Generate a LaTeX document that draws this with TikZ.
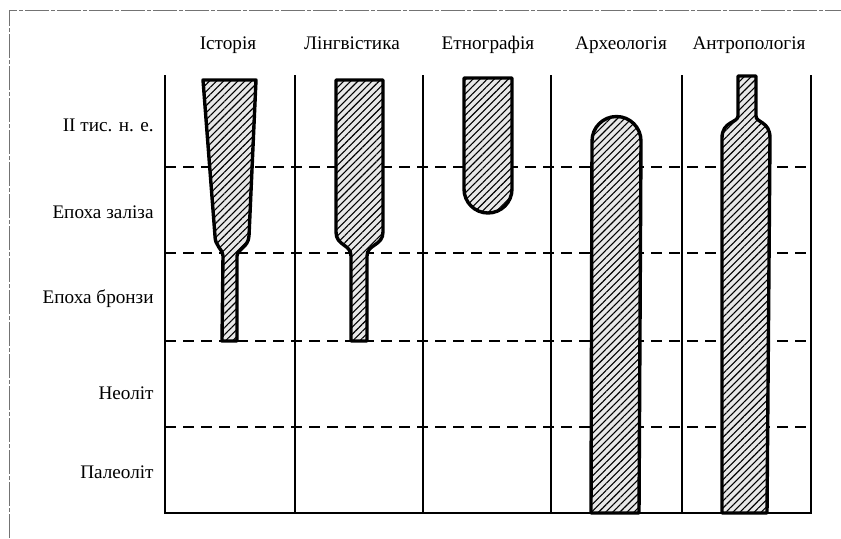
\documentclass[tikz,border=0pt]{standalone}
\usepackage{fontspec}
\setmainfont{Liberation Serif}
\usepackage{tikz}
\usetikzlibrary{patterns.meta,positioning}

\begin{document}
\begin{tikzpicture}[
  x=0.5pt, y=-0.5pt,
  font=\fontsize{9.6}{11}\selectfont,
  grid/.style={line width=1pt, draw=black},
  period/.style={dashed, dash pattern=on 5.5pt off 3.5pt, line width=0.9pt},
  frame/.style={draw=black!55, line width=0.4pt, dash pattern=on 12pt off 1pt on 2pt off 1pt},
  bar/.style={
    draw=black,
    line width=1.7pt,
    line join=round,
    preaction={fill=black!9},
    pattern={Lines[angle=45,distance=2.5pt,line width=0.55pt]}
  },
  colhead/.style={anchor=base, inner sep=0pt},
  rowhead/.style={anchor=east, inner sep=0pt}
]
\useasboundingbox (0,0) rectangle (841,538);

% ===== Page frame =====
\draw[frame] (9,538) -- (9,10) -- (841,10);

% ===== Grid =====
\draw[grid] (165,75) -- (165,513) -- (811,513) -- (811,75);
\draw[grid] (295,75) -- (295,513);
\draw[grid] (423,75) -- (423,513);
\draw[grid] (551,75) -- (551,513);
\draw[grid] (682,75) -- (682,513);

\draw[period] (165,167) -- (811,167);
\draw[period] (165,253) -- (811,253);
\draw[period] (165,341) -- (811,341);
\draw[period] (165,427) -- (811,427);

% ===== Column headings =====
\node[colhead] (hist)  at (228,49) {Історія};
\node[colhead] (ling)  at (352,49) {Лінгвістика};
\node[colhead] (ethn)  at (488,49) {Етнографія};
\node[colhead] (arch)  at (621,49) {Археологія};
\node[colhead] (anth)  at (749,49) {Антропологія};

% ===== Row headings =====
\node[rowhead] (mill)  at (154,125) {II тис. н. е.};
\node[rowhead] (iron)  at (154,212) {Епоха заліза};
\node[rowhead] (bronz) at (154,299) {Епоха бронзи};
\node[rowhead] (neol)  at (154,393) {Неоліт};
\node[rowhead] (pal)   at (154,472) {Палеоліт};

% ===== Bars =====
% history
\draw[bar] (203,80) -- (256,80) -- (249,236)
  .. controls (248,248) and (238,248) .. (237,256)
  -- (237,341) -- (222,341) -- (223,256)
  .. controls (222,248) and (215,246) .. (215,236) -- cycle;
% linguistics
\draw[bar] (336,80) -- (383,80) -- (383,232)
  .. controls (383,246) and (367,244) .. (367,256)
  -- (367,341) -- (351,341) -- (351,256)
  .. controls (351,244) and (336,246) .. (336,232) -- cycle;
% ethnography
\draw[bar] (464,78) -- (512,78) -- (512,189)
  arc[start angle=0, end angle=180, radius=24] -- cycle;
% archaeology
\draw[bar] (591,513) -- (592,141)
  arc[start angle=180, end angle=360, radius=24.5]
  -- (639,513) -- cycle;
% anthropology
\draw[bar] (722,513) -- (722,138)
  .. controls (722,121) and (738,123) .. (738,116)
  -- (738,76) -- (756,76) -- (756,116)
  .. controls (756,123) and (770,121) .. (770,138)
  -- (767,513) -- cycle;

\end{tikzpicture}
\end{document}
